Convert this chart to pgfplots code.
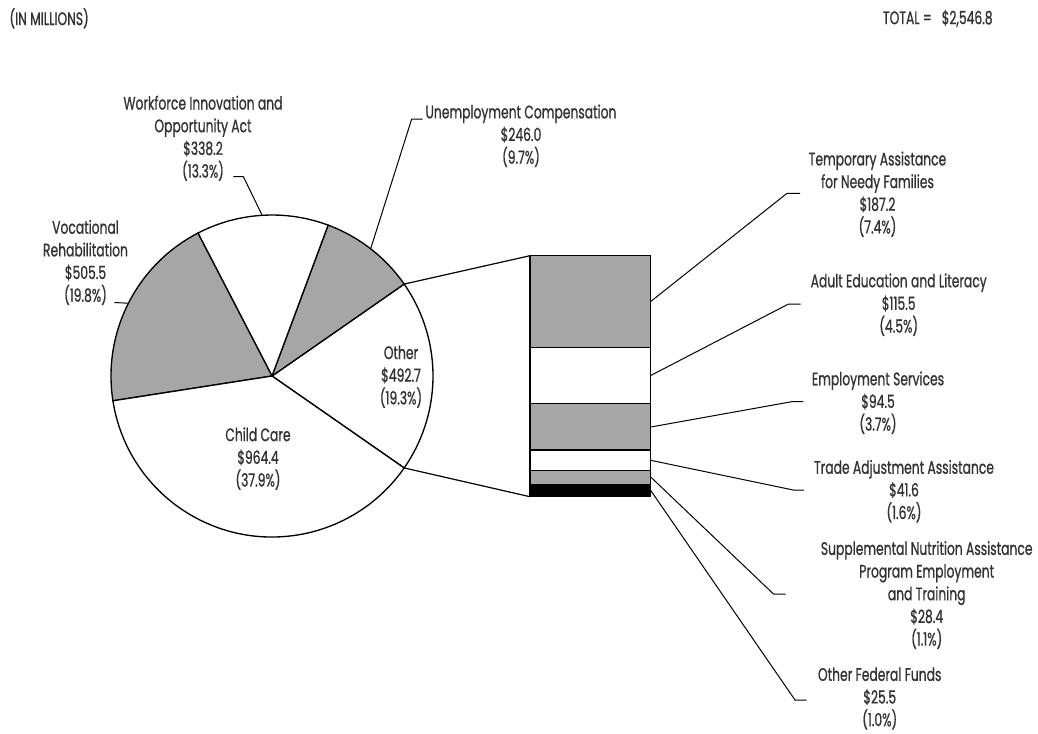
\documentclass[border=0pt]{standalone}
\usepackage{pgfplots}
\pgfplotsset{compat=1.18}
\usepackage{fontspec}
\setmainfont{Poppins}[FakeStretch=0.68, FakeBold=0.8]
\definecolor{slicegray}{RGB}{166,166,166}
\definecolor{txt}{RGB}{50,50,50}
\begin{document}
\begin{tikzpicture}
% values (millions)
\pgfmathsetmacro{\T}{2546.8}
\pgfmathsetmacro{\vOther}{492.7}
\pgfmathsetmacro{\vUnemp}{246.0}
\pgfmathsetmacro{\vWIOA}{338.2}
\pgfmathsetmacro{\vVoc}{505.5}
\pgfmathsetmacro{\vChild}{964.4}
\pgfmathsetmacro{\aA}{-180*(\vOther/\T)}
\pgfmathsetmacro{\aB}{\aA+360*(\vOther/\T)}
\pgfmathsetmacro{\aC}{\aB+360*(\vUnemp/\T)}
\pgfmathsetmacro{\aD}{\aC+360*(\vWIOA/\T)}
\pgfmathsetmacro{\aE}{\aD+360*(\vVoc/\T)}
\pgfmathsetmacro{\aF}{\aA+360}
\pgfmathsetmacro{\mUnemp}{(\aB+\aC)/2}
\pgfmathsetmacro{\mWIOA}{(\aC+\aD)/2}
\pgfmathsetmacro{\mVoc}{(\aD+\aE)/2}
\def\R{120.75pt}
\begin{axis}[at={(0,0)}, anchor=south west, scale only axis, width=778.5pt, height=549.75pt,
  xmin=0, xmax=1038, ymin=0, ymax=733, y dir=reverse, hide axis, clip=false]
\path (axis cs:0,0) rectangle (axis cs:1038,733);
% pie wedges
\filldraw[fill=white, draw=black, line width=1pt] (axis cs:272,376) -- ++(\aA:\R) arc[start angle=\aA, end angle=\aB, radius=\R] -- cycle;
\filldraw[fill=slicegray, draw=black, line width=1pt] (axis cs:272,376) -- ++(\aB:\R) arc[start angle=\aB, end angle=\aC, radius=\R] -- cycle;
\filldraw[fill=white, draw=black, line width=1pt] (axis cs:272,376) -- ++(\aC:\R) arc[start angle=\aC, end angle=\aD, radius=\R] -- cycle;
\filldraw[fill=slicegray, draw=black, line width=1pt] (axis cs:272,376) -- ++(\aD:\R) arc[start angle=\aD, end angle=\aE, radius=\R] -- cycle;
\filldraw[fill=white, draw=black, line width=1pt] (axis cs:272,376) -- ++(\aE:\R) arc[start angle=\aE, end angle=\aF, radius=\R] -- cycle;
% connectors to bar
\draw[line width=0.9pt] (axis cs:272,376) ++(\aB:\R) -- (axis cs:530,255.7);
\draw[line width=0.9pt] (axis cs:272,376) ++(\aA:\R) -- (axis cs:530,496.7);
% pie leaders
\draw[line width=0.75pt] (axis cs:272,376) ++(\mUnemp:\R) -- (axis cs:411.7,119) -- (axis cs:422.7,119);
\draw[line width=0.75pt] (axis cs:272,376) ++(\mWIOA:\R) -- (axis cs:243.3,176.5) -- (axis cs:233.3,176.5);
\draw[line width=0.75pt] (axis cs:272,376) ++(\mVoc:\R) -- (axis cs:114.3,302.5);
% bar leaders
\draw[line width=0.75pt] (axis cs:650.7,301.5) -- (axis cs:787,193.3) -- (axis cs:800,193.3);
\draw[line width=0.75pt] (axis cs:650.7,375.5) -- (axis cs:788.5,304) -- (axis cs:800.7,304);
\draw[line width=0.75pt] (axis cs:650.7,427) -- (axis cs:791.7,401.7) -- (axis cs:803.3,401.7);
\draw[line width=0.75pt] (axis cs:650.7,460.3) -- (axis cs:793.3,490) -- (axis cs:804,490);
\draw[line width=0.75pt] (axis cs:650.7,477) -- (axis cs:773.5,594) -- (axis cs:785.7,594);
\draw[line width=0.75pt] (axis cs:650.7,490.4) -- (axis cs:795,700) -- (axis cs:806.7,700);
% texts
\tikzset{lbl/.style={align=center, inner sep=0pt, text=txt, font=\fontsize{13.6}{17}\selectfont}}
\node[lbl, anchor=west] at (axis cs:9.3,18.3) {(IN MILLIONS)};
\node[lbl, anchor=west] at (axis cs:882.7,18.3) {TOTAL =\ \ \ \$2,546.8};
\node[lbl] at (axis cs:521,135.8) {Unemployment Compensation\\\$246.0\\(9.7\%)};
\node[lbl] at (axis cs:203,138.3) {Workforce Innovation and\\Opportunity Act\\\$338.2\\(13.3\%)};
\node[lbl] at (axis cs:85.5,262.5) {Vocational\\Rehabilitation\\\$505.5\\(19.8\%)};
\node[lbl] at (axis cs:401,376.7) {Other\\\$492.7\\(19.3\%)};
\node[lbl] at (axis cs:258,458.6) {Child Care\\\$964.4\\(37.9\%)};
\node[lbl] at (axis cs:877.5,194.2) {Temporary Assistance\\for Needy Families\\\$187.2\\(7.4\%)};
\node[lbl] at (axis cs:898.7,304.7) {Adult Education and Literacy\\\$115.5\\(4.5\%)};
\node[lbl] at (axis cs:878,402.7) {Employment Services\\\$94.5\\(3.7\%)};
\node[lbl] at (axis cs:904,491.2) {Trade Adjustment Assistance\\\$41.6\\(1.6\%)};
\node[lbl] at (axis cs:926.7,595) {Supplemental Nutrition Assistance\\Program Employment\\and Training\\\$28.4\\(1.1\%)};
\node[lbl] at (axis cs:879.7,698.5) {Other Federal Funds\\\$25.5\\(1.0\%)};
\end{axis}
% stacked bar of "Other"
\begin{axis}[at={(397.5pt,177.2pt)}, anchor=south west, scale only axis, width=90.5pt, height=180.75pt,
  xmin=-0.5, xmax=0.5, ymin=0, ymax=492.7, y dir=reverse, hide axis,
  ybar stacked, bar width=90.5pt, clip=false]
\addplot[fill=slicegray, draw=black, line width=1pt] coordinates {(0,187.2)};
\addplot[fill=white, draw=black, line width=1pt] coordinates {(0,115.5)};
\addplot[fill=slicegray, draw=black, line width=1pt] coordinates {(0,94.5)};
\addplot[fill=white, draw=black, line width=1pt] coordinates {(0,41.6)};
\addplot[fill=slicegray, draw=black, line width=1pt] coordinates {(0,28.4)};
\addplot[fill=black, draw=black, line width=1pt] coordinates {(0,25.5)};
\end{axis}
\end{tikzpicture}
\end{document}
